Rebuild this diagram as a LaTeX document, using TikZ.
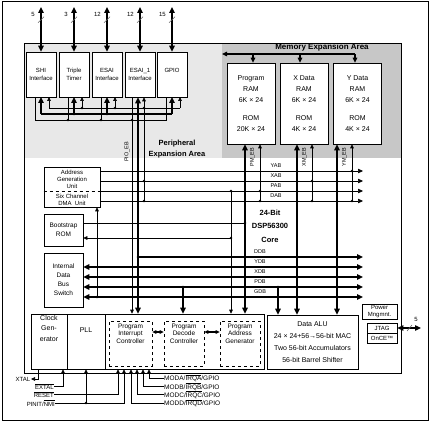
\documentclass[tikz,border=0pt]{standalone}
\usepackage{fontspec}
\setmainfont{Liberation Sans}
\usetikzlibrary{arrows.meta}
\newcommand\fsz[2]{\fontsize{#1pt}{#2pt}\selectfont}
\newcommand\ovl[1]{\ensuremath{\overline{\mbox{#1}}}}
\newcommand\jd[1]{\fill (#1) circle (1.4pt);}
\tikzset{
  tA/.tip={Triangle[length=4pt,width=3.6pt]},
  mA/.tip={Triangle[length=5pt,width=4.4pt]},
  TA/.tip={Triangle[length=6pt,width=5.4pt]},
}
\begin{document}
\begin{tikzpicture}[x=1pt,y=-1pt,
  thn/.style={line width=0.6pt},
  med/.style={line width=1.1pt},
  thk/.style={line width=1.8pt},
  box/.style={draw,thn,fill=white,inner sep=0pt,align=center},
  lbl/.style={inner sep=0pt,align=center},
  bus/.style={inner sep=0pt,font=\fsz{5.5}{6}},
  pbox/.style={box,minimum width=30pt,minimum height=45pt,font=\fsz{6}{8}},
  mbox/.style={box,minimum width=48pt,minimum height=81pt,font=\fsz{7}{11}},
  dbox/.style={draw,thn,dashed,fill=white,inner sep=0pt,minimum width=40pt,minimum height=45pt},
]
\useasboundingbox (0,0) rectangle (431,422);
% frames and areas
\draw[thn] (2.5,1) rectangle (428.5,420.5);
\fill[black!9] (24.5,43) rectangle (222,158);
\fill[black!22] (222,43) rectangle (401,158);
\draw[thn] (24.5,43) rectangle (401,373);
\node[lbl,font=\bfseries\fsz{8}{9}] (memlbl) at (322,47.5) {Memory Expansion Area};
\node[lbl,font=\bfseries\fsz{7.5}{11.5}] (perlbl) at (177,149) {Peripheral\\Expansion Area};
\node[lbl,font=\bfseries\fsz{7.5}{13.5}] (corelbl) at (270,226) {24-Bit\\DSP56300\\Core};

% peripherals
\node[pbox] (shi) at (41,74.5) {SHI\\Interface};
\node[pbox] (tt) at (74,74.5) {Triple\\Timer};
\node[pbox] (esai) at (107,74.5) {ESAI\\Interface};
\node[pbox] (esaib) at (140,74.5) {ESAI\_1\\Interface};
\node[pbox] (gpio) at (172,74.5) {GPIO\\\mbox{}};
\foreach \n/\w in {shi/5,tt/3,esai/12,esaib/12,gpio/15}{
  \draw[thk,TA-TA] (\n.north) -- (\n.north |- 0,7);
  \draw[thn,black!60] ([xshift=-3pt,yshift=29pt]\n.north) -- ([xshift=3pt,yshift=35pt]\n.north);
  \node[lbl,font=\fsz{6}{7},anchor=east] (w\n) at ([xshift=-6pt,yshift=37pt]\n.north) {\w};
}
% peripheral buses
\draw[thn] (35,97) -- (35,120) -- (166,120) -- (166,97);
\draw[thn] (68,97) -- (68,120);
\draw[thn] (101,97) -- (101,120);
\draw[thk] (41,114) -- (172,114);
\foreach \x in {41,74,107,172} \draw[thk,-TA] (\x,114) -- (\x,97);
\draw[thn] (49,108) -- (180,108);
\foreach \x in {49,82,115,180} \draw[thn,-tA] (\x,108) -- (\x,97);
\jd{68,120}\jd{101,120}\jd{132,120}
\jd{74,114}\jd{107,114}\jd{138,114}
\jd{82,108}\jd{115,108}\jd{144,108}
\node[bus,rotate=90] (pioeb) at (127,152) {PIO\_EB};

% memories
\node[mbox] (prog) at (251,103.5) {Program\\RAM\\6K × 24\\[7pt]ROM\\20K × 24};
\node[mbox] (xram) at (304,103.5) {X Data\\RAM\\6K × 24\\[7pt]ROM\\4K × 24};
\node[mbox] (yram) at (357.5,103.5) {Y Data\\RAM\\6K × 24\\[7pt]ROM\\4K × 24};
\coordinate (memL) at (222,54);
\draw[med,-mA] (355,54) -- (memL);
\foreach \x/\n in {253/prog,300/xram,355/yram} \draw[thk,-mA] (\x,54) -- (\n.north -| \x,0);

% left units
\node[box,minimum width=56pt,minimum height=40pt] (agu) at (72,187) {};
\draw[line width=1pt,dashed] (agu.west |- 0,192) -- (agu.east |- 0,192);
\node[lbl,font=\fsz{6}{6.8}] (agut) at (72,179.5) {Address\\Generation\\Unit};
\node[lbl,font=\fsz{6}{6.8}] (dmat) at (72,199.5) {Six Channel\\DMA~~Unit};
\node[box,minimum width=39pt,minimum height=32pt,font=\fsz{6.5}{8.5}] (boot) at (63.5,230) {Bootstrap\\ROM};
\node[box,minimum width=39pt,minimum height=54pt,font=\fsz{6.5}{9}] (idbs) at (63.5,280) {Internal\\Data\\Bus\\Switch};

% address buses
\foreach \y/\n in {171/YAB,181/XAB,191/PAB,201/DAB}{
  \draw[thn,-mA] (agu.east |- 0,\y) -- (363,\y);
  \node[bus] (l\n) at (276,\y-5) {\n};
}
% data buses
\draw[thk,-TA] (138,257) -- (363,257);
\node[bus] (lDDB) at (260,252) {DDB};
\foreach \y/\n in {267/YDB,277/XDB,287/PDB,297/GDB}{
  \draw[thk,TA-TA] (idbs.east |- 0,\y) -- (363,\y);
  \node[bus] (l\n) at (260,\y-5) {\n};
}
% bootstrap lines
\draw[thn] (boot.east |- 0,223) -- (245,223);
\draw[thn,-tA] (231,238) -- (boot.east |- 0,238);
\jd{245,223}\jd{231,238}
% DMA line
\draw[thn,-tA] (97,297) -- (agu.south -| 97,0);
\jd{97,297}

% lower units
\node[box,minimum width=36pt,minimum height=55pt] (clk) at (49,341.5) {};
\node[lbl,font=\fsz{7}{10.5},anchor=north] (clkt) at (49,315) {Clock\\Gen-\\erator};
\node[box,minimum width=38pt,minimum height=55pt,font=\fsz{7}{9}] (pll) at (86,341.5) {};
\node[lbl,font=\fsz{7}{9}] (pllt) at (86,330) {PLL};
\node[box,minimum width=159pt,minimum height=55pt] (ctrl) at (184.5,341.5) {};
\node[dbox,minimum width=43pt] (pic) at (130.5,343.5) {};
\node[dbox] (pdc) at (184,343.5) {};
\node[dbox] (pag) at (240,343.5) {};
\node[lbl,font=\fsz{6.5}{7.5},anchor=north] (pict) at (130.5,323.5) {Program\\Interrupt\\Controller};
\node[lbl,font=\fsz{6.5}{7.5},anchor=north] (pdct) at (184,323.5) {Program\\Decode\\Controller};
\node[lbl,font=\fsz{6.5}{7.5},anchor=north] (pagt) at (240,323.5) {Program\\Address\\Generator};
\draw[med,tA-tA] (pic.east |- 0,332) -- (pdc.west |- 0,332);
\draw[med,tA-tA] (pdc.east |- 0,332) -- (pag.west |- 0,332);
\node[box,minimum width=91pt,minimum height=54pt,font=\fsz{7}{11.8}] (alu) at (312.5,342) {Data ALU\\24 × 24+56→56-bit MAC\\Two 56-bit Accumulators\\56-bit Barrel Shifter};
\node[box,minimum width=35pt,minimum height=15pt,font=\fsz{6}{6.8}] (pwr) at (379.5,311.5) {Power\\Mngmnt.};
\node[box,minimum width=30pt,minimum height=10pt,font=\fsz{6}{7}] (jtag) at (382,328) {JTAG};
\node[box,minimum width=30pt,minimum height=10pt,font=\fsz{6}{7}] (once) at (382,338) {OnCE™};
\coordinate (jtagR) at (421,328);
\draw[med,TA-TA] (jtag.east) -- (jtagR);
\draw[thn,black!60] (407,331) -- (412,325);
\node[lbl,font=\fsz{6}{7}] (w5j) at (416,319) {5};

% verticals
\draw[thn,-tA] (esaib.south -| 132,0) -- (ctrl.north -| 132,0);
\draw[thk,TA-TA] (esaib.south -| 138,0) -- (ctrl.north -| 138,0);
\draw[thn,tA-] (esaib.south -| 144,0) -- (144,201);
\jd{144,181}\jd{144,201}\jd{138,257}\jd{138,297}
\draw[thk,-TA] (183,287) -- (ctrl.north -| 183,0); \jd{183,287}
\draw[thn,-tA] (231,191) -- (ctrl.north -| 231,0); \jd{231,191}
\draw[thk,TA-TA] (prog.south -| 245,0) -- (ctrl.north -| 245,0);
\jd{245,257}\jd{245,287}
\draw[thn,tA-] (prog.south -| 260,0) -- (260,201); \jd{260,191}\jd{260,201}
\draw[thk,-TA] (278,287) -- (alu.north -| 278,0); \jd{278,287}
\draw[thk,TA-TA] (xram.south -| 297,0) -- (alu.north -| 297,0); \jd{297,257}\jd{297,277}
\draw[thn,tA-] (xram.south -| 312,0) -- (312,201); \jd{312,181}\jd{312,201}
\draw[thk,TA-TA] (yram.south -| 337,0) -- (alu.north -| 337,0); \jd{337,257}\jd{337,267}
\draw[thn,tA-] (yram.south -| 352,0) -- (352,201); \jd{352,171}\jd{352,201}
\node[bus,rotate=90] (pmeb) at (252.5,157) {PM\_EB};
\node[bus,rotate=90] (xmeb) at (304.5,157) {XM\_EB};
\node[bus,rotate=90] (ymeb) at (344.5,157) {YM\_EB};

% bottom signals
\node[lbl,font=\fsz{6}{7},anchor=east,inner sep=0.5pt] (xtal) at (31,379) {XTAL};
\node[lbl,font=\fsz{6}{7},anchor=east] (extal) at (54,386.5) {\ovl{EXTAL}};
\node[lbl,font=\fsz{6}{7},anchor=east] (reset) at (54,394.5) {\ovl{RESET}};
\node[lbl,font=\fsz{6}{7},anchor=east] (pinit) at (55,403) {PINIT/\ovl{NMI}};
\draw[thn,-tA] (clk.south -| 38,0) -- (38,379) -- (xtal.east);
\draw[thn,-tA] (extal.east |- 0,386.5) -- (63,386.5) -- (clk.south -| 63,0);
\draw[thn,-tA] (reset.east |- 0,394.5) -- (118,394.5) -- (ctrl.south -| 118,0);
\draw[thn,-tA] (pinit.east) -- (124,403) -- (ctrl.south -| 124,0);
\draw[thn,-tA] (86,403) -- (pll.south -| 86,0); \jd{86,403}
\node[lbl,font=\fsz{6.5}{7},anchor=west] (moda) at (164,378) {MODA/\ovl{IRQA}/GPIO};
\node[lbl,font=\fsz{6.5}{7},anchor=west] (modb) at (164,386.5) {MODB/\ovl{IRQB}/GPIO};
\node[lbl,font=\fsz{6.5}{7},anchor=west] (modc) at (164,394.5) {MODC/\ovl{IRQC}/GPIO};
\node[lbl,font=\fsz{6.5}{7},anchor=west] (modd) at (164,403) {MODD/\ovl{IRQD}/GPIO};
\draw[thn,-tA] (moda.west) -- (149,378) -- (ctrl.south -| 149,0);
\draw[thn,-tA] (modb.west) -- (143,386.5) -- (ctrl.south -| 143,0);
\draw[thn,-tA] (modc.west) -- (137,394.5) -- (ctrl.south -| 137,0);
\draw[thn,-tA] (modd.west) -- (131,403) -- (ctrl.south -| 131,0);
\end{tikzpicture}
\end{document}
